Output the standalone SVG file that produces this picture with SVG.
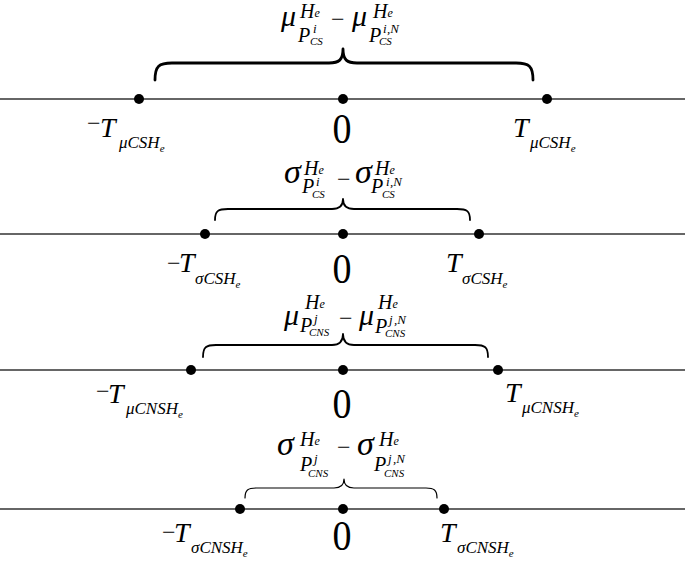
<svg xmlns="http://www.w3.org/2000/svg" width="685" height="566" viewBox="0 0 685 566">
<style>
.ln{stroke:#333;stroke-width:1.6;fill:none}
.br{stroke:#000;fill:none;stroke-linecap:round;stroke-linejoin:round}
.dot{fill:#000}
text{font-family:"Liberation Serif","Times New Roman",serif;fill:#000}
.it{font-style:italic}
.big{font-size:30px}
.sig{font-size:34px}
.mid{font-size:20px}
.e{font-size:12px}
.sm{font-size:13px}
.xs{font-size:11px}
.tl{font-size:28px}
.ts{font-size:17px}
.te{font-size:11px}
.mn{font-size:24px}
.zero{font-size:38px}
</style>
<g id="connectors">
<line class="ln" x1="0" y1="99" x2="685" y2="99"/>
<line class="ln" x1="0" y1="234" x2="685" y2="234"/>
<line class="ln" x1="0" y1="370" x2="685" y2="370"/>
<line class="ln" x1="0" y1="509" x2="685" y2="509"/>
<path class="br" stroke-width="2.8" d="M155,80 C155,66 159,63 172,63 L329,63 C339,63 343,60 343,49 C343,60 347,63 357,63 L516,63 C529,63 533,66 533,80"/>
<path class="br" stroke-width="1.8" d="M215,220 C215,211 218,209 228,209 L332,209 C339,209 343,206 343,199 C343,206 347,209 354,209 L457,209 C467,209 470,211 470,220"/>
<path class="br" stroke-width="1.8" d="M203,357 C203,347 206,345 216,345 L332,345 C339,345 343,342 343,334 C343,342 347,345 354,345 L475,345 C485,345 488,347 488,357"/>
<path class="br" stroke-width="1.2" d="M245,498 C245,490 248,488 256,488 L334,488 C340,488 344,485 344,479 C344,485 348,488 354,488 L426,488 C434,488 437,490 437,498"/>
</g>
<g id="line1">
<circle class="dot" cx="139" cy="99" r="5"/>
<circle class="dot" cx="343" cy="99" r="5"/>
<circle class="dot" cx="547" cy="99" r="5"/>
<text class="it"><tspan class="big" x="281" y="26">μ</tspan><tspan class="mid" x="300" y="18">H</tspan><tspan class="e" y="17">e</tspan><tspan class="mid" x="298" y="42">P</tspan><tspan class="sm" x="313" y="33">i</tspan><tspan class="xs" x="310" y="45">CS</tspan></text>
<text class="mn" x="331" y="27">−</text>
<text class="it"><tspan class="big" x="352" y="26">μ</tspan><tspan class="mid" x="373" y="18">H</tspan><tspan class="e" y="17">e</tspan><tspan class="mid" x="369" y="42">P</tspan><tspan class="sm" x="383" y="33">i</tspan><tspan class="sm" x="387" y="33">,N</tspan><tspan class="xs" x="379" y="45">CS</tspan></text>
<text><tspan class="mn" x="87" y="131">−</tspan><tspan class="tl it" x="100" y="137">T</tspan><tspan class="ts it" x="119" y="148">μCSH</tspan><tspan class="te it" y="152">e</tspan></text>
<text class="zero" text-anchor="middle" transform="translate(342,143) scale(1,1.1)">0</text>
<text class="it"><tspan class="tl" x="513" y="137">T</tspan><tspan class="ts" x="530" y="148">μCSH</tspan><tspan class="te" y="152">e</tspan></text>
</g>
<g id="line2">
<circle class="dot" cx="205" cy="234" r="5"/>
<circle class="dot" cx="343" cy="234" r="5"/>
<circle class="dot" cx="479" cy="234" r="5"/>
<text class="it"><tspan class="sig" x="284" y="183">σ</tspan><tspan class="mid" x="304" y="175">H</tspan><tspan class="e" y="174">e</tspan><tspan class="mid" x="302" y="193">P</tspan><tspan class="sm" x="316" y="186">i</tspan><tspan class="xs" x="312" y="198">CS</tspan></text>
<text class="mn" x="337" y="187">−</text>
<text class="it"><tspan class="sig" x="355" y="183">σ</tspan><tspan class="mid" x="375" y="175">H</tspan><tspan class="e" y="174">e</tspan><tspan class="mid" x="371" y="193">P</tspan><tspan class="sm" x="386" y="186">i</tspan><tspan class="sm" x="390" y="186">,N</tspan><tspan class="xs" x="382" y="198">CS</tspan></text>
<text><tspan class="mn" x="167" y="271">−</tspan><tspan class="tl it" x="179" y="272">T</tspan><tspan class="ts it" x="195" y="284">σCSH</tspan><tspan class="te it" y="288">e</tspan></text>
<text class="zero" text-anchor="middle" transform="translate(342,283) scale(1,1.1)">0</text>
<text class="it"><tspan class="tl" x="446" y="272">T</tspan><tspan class="ts" x="462" y="284">σCSH</tspan><tspan class="te" y="288">e</tspan></text>
</g>
<g id="line3">
<circle class="dot" cx="191" cy="370" r="5"/>
<circle class="dot" cx="343" cy="370" r="5"/>
<circle class="dot" cx="498" cy="370" r="5"/>
<text class="it"><tspan class="big" x="284" y="325">μ</tspan><tspan class="mid" x="305" y="309">H</tspan><tspan class="e" y="308">e</tspan><tspan class="mid" x="300" y="332">P</tspan><tspan class="sm" x="314" y="323">j</tspan><tspan class="xs" x="309" y="336">CNS</tspan></text>
<text class="mn" x="339" y="326">−</text>
<text class="it"><tspan class="big" x="359" y="325">μ</tspan><tspan class="mid" x="378" y="309">H</tspan><tspan class="e" y="308">e</tspan><tspan class="mid" x="375" y="333">P</tspan><tspan class="sm" x="389" y="324">j</tspan><tspan class="sm" x="394" y="324">,N</tspan><tspan class="xs" x="385" y="337">CNS</tspan></text>
<text><tspan class="mn" x="96" y="399">−</tspan><tspan class="tl it" x="108" y="403">T</tspan><tspan class="ts it" x="126" y="414">μCNSH</tspan><tspan class="te it" y="418">e</tspan></text>
<text class="zero" text-anchor="middle" transform="translate(342,418) scale(1,1.1)">0</text>
<text class="it"><tspan class="tl" x="505" y="402">T</tspan><tspan class="ts" x="522" y="413">μCNSH</tspan><tspan class="te" y="417">e</tspan></text>
</g>
<g id="line4">
<circle class="dot" cx="240" cy="509" r="5"/>
<circle class="dot" cx="343" cy="509" r="5"/>
<circle class="dot" cx="444" cy="509" r="5"/>
<text class="it"><tspan class="sig" x="277" y="455">σ</tspan><tspan class="mid" x="300" y="446">H</tspan><tspan class="e" y="445">e</tspan><tspan class="mid" x="300" y="471">P</tspan><tspan class="sm" x="314" y="463">j</tspan><tspan class="xs" x="308" y="477">CNS</tspan></text>
<text class="mn" x="337" y="455">−</text>
<text class="it"><tspan class="sig" x="357" y="455">σ</tspan><tspan class="mid" x="379" y="446">H</tspan><tspan class="e" y="445">e</tspan><tspan class="mid" x="374" y="471">P</tspan><tspan class="sm" x="388" y="463">j</tspan><tspan class="sm" x="393" y="463">,N</tspan><tspan class="xs" x="384" y="477">CNS</tspan></text>
<text><tspan class="mn" x="162" y="540">−</tspan><tspan class="tl it" x="174" y="542">T</tspan><tspan class="ts it" x="191" y="553">σCNSH</tspan><tspan class="te it" y="557">e</tspan></text>
<text class="zero" text-anchor="middle" transform="translate(342,550) scale(1,1.1)">0</text>
<text class="it"><tspan class="tl" x="440" y="542">T</tspan><tspan class="ts" x="457" y="553">σCNSH</tspan><tspan class="te" y="557">e</tspan></text>
</g>
</svg>
